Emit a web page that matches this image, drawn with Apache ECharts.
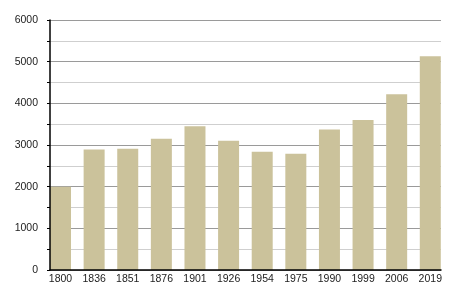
<!DOCTYPE html>
<html><head><meta charset="utf-8">
<script src="https://cdn.jsdelivr.net/npm/echarts@6/dist/echarts.min.js"></script>
<style>html,body{margin:0;padding:0;background:#fff}#c{width:450px;height:300px}</style>
</head><body><div id="c"></div>
<script>
const categories = ['1800','1836','1851','1876','1901','1926','1954','1975','1990','1999','2006','2019'];
const values = [2000, 2890, 2910, 3150, 3450, 3100, 2840, 2790, 3370, 3600, 4220, 5130];
const yMin = 0, yMax = 6000, yStep = 1000;

const chart = echarts.init(document.getElementById('c'), null, {renderer:'canvas'});
const font = {fontFamily:'Liberation Sans, Arial, sans-serif', fontSize:10.5, color:'#222'};
chart.setOption({
  animation:false,
  grid:[
    {left:50, right:9, top:20, bottom:30},
    {left:43.7, right:2.9, top:20, bottom:30}
  ],
  xAxis:[
    {gridIndex:0, type:'category', data:categories, z:5, axisLine:{lineStyle:{color:'#000',width:1.5}}, axisTick:{show:false}, axisLabel:{show:false}},
    {gridIndex:1, type:'category', data:categories, axisLine:{show:false}, axisTick:{show:false},
     axisLabel:Object.assign({margin:4, interval:0}, font)}
  ],
  yAxis:[
    {gridIndex:0, type:'value', min:yMin, max:yMax, interval:yStep, z:0,
     axisLine:{show:false}, axisTick:{show:false}, axisLabel:{show:false},
     minorTick:{show:false, splitNumber:2},
     splitLine:{show:true, lineStyle:{color:'#9a9a9a', width:1}},
     minorSplitLine:{show:true, lineStyle:{color:'#cfcfcf', width:1}}},
    {gridIndex:1, type:'value', min:yMin, max:yMax, show:false, splitLine:{show:false}},
    {gridIndex:0, type:'value', min:yMin, max:yMax, interval:yStep, z:5, position:'left',
     axisLine:{show:true, lineStyle:{color:'#000',width:1.5}},
     axisTick:{show:true, length:3, lineStyle:{color:'#000'}},
     minorTick:{show:true, splitNumber:2, length:3, lineStyle:{color:'#000'}},
     splitLine:{show:false}, minorSplitLine:{show:false},
     axisLabel:Object.assign({margin:12, formatter: v => String(v)}, font)}
  ],
  series:[{
    type:'bar', xAxisIndex:1, yAxisIndex:1, data:values, barWidth:21,
    itemStyle:{color:'#cbc29b'}
  }]
});
</script></body></html>
